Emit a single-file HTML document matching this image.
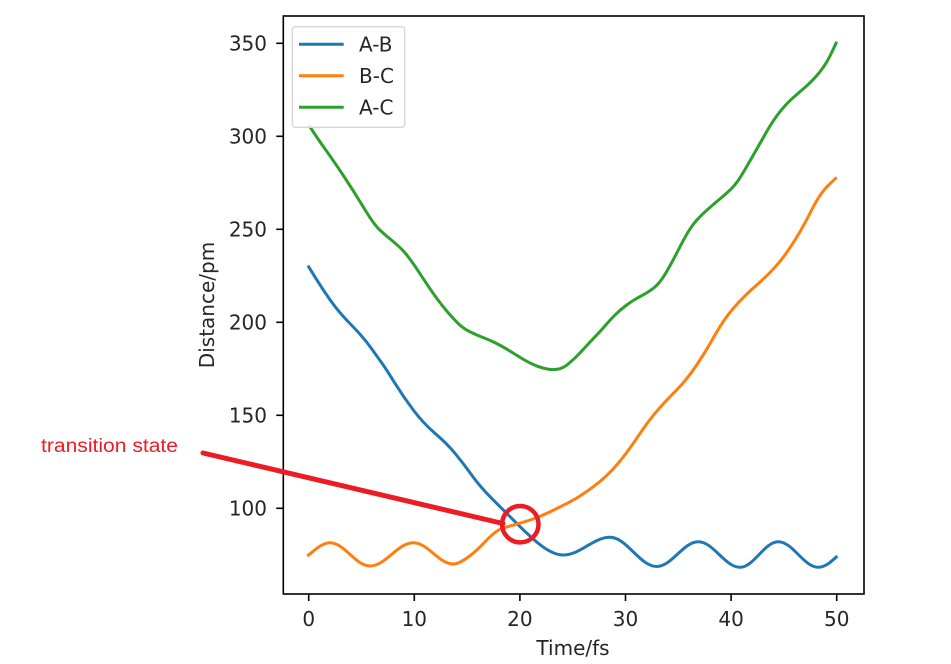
<!DOCTYPE html>
<html><head><meta charset="utf-8"><style>
html,body{margin:0;padding:0;background:#fff;}
svg{display:block;}
</style></head><body>
<svg width="951" height="664" viewBox="0 0 951 664" xmlns="http://www.w3.org/2000/svg">
<rect width="951" height="664" fill="#fff"/>
<g fill="none" stroke-width="3" stroke-linejoin="round" stroke-linecap="butt">
<!-- A-C green -->
<path stroke="#2ca02c" d="M308.7,125 L314.35,133.5 Q320,142 326.5,151 Q333,160 343,175 Q353,190 363,206.5 Q373,223 378,228.15 Q383,233.3 391.35,240 Q399.7,246.7 404.7,252.5 Q409.7,258.3 414.7,265.8 Q419.7,273.3 426.35,283.3 Q433,293.3 438,300 Q443,306.7 448,312.5 Q453,318.3 458,323.3 Q463,328.3 469.65,331.65 Q476.3,335 483,337.5 Q489.7,340 496.35,343.35 Q503,346.7 509.65,350.85 Q516.3,355 523,359.15 Q529.7,363.3 536.35,365.8 Q543,368.3 548,369.15 Q553,370 558,369.15 Q563,368.3 568,364.15 Q573,360 576.5,356.5 Q580,353 585,347.5 Q590,342 595,336.85 Q600,331.7 605,325.85 Q610,320 615,315 Q620,310 626.65,305 Q633.3,300 640,296.65 Q646.7,293.3 653.35,288.3 Q660,283.3 666.65,271.65 Q673.3,260 678.3,250 Q683.3,240 688.3,231.65 Q693.3,223.3 700,216.65 Q706.7,210 716.7,201.65 Q726.7,193.3 731.7,188.3 Q736.7,183.3 741.7,175 Q746.7,166.7 753.35,155 Q760,143.3 766.65,131.65 Q773.3,120 780,111.65 Q786.7,103.3 793.35,97.5 Q800,91.7 806.65,85.85 Q813.3,80 820,71.65 Q826.7,63.3 831.7,52.5 L836.7,41.7"/>
<!-- A-B blue -->
<path stroke="#1f77b4" d="M308,265.7 L315.5,277.85 Q323,290 331.35,301.65 Q339.7,313.3 351.35,325 Q363,336.7 371.35,348.35 Q379.7,360 383.2,365 Q386.7,370 395,383.35 Q403.3,396.7 413.3,410 Q423.3,423.3 435,433.3 Q446.7,443.3 455,453.3 Q463.3,463.3 471.65,475 Q480,486.7 491.65,498.35 Q503.3,510 515,521.65 C536,542.6 550,555 563.3,555 C580.1,555 593.2,537.3 610,537.3 C626.8,537.3 639.9,566.5 656.7,566.5 C671.7,566.5 683.3,541.7 698.3,541.7 C713.3,541.7 725,567.3 740,567.3 C753.8,567.3 764.5,541.7 778.3,541.7 C792.7,541.7 803.9,567.3 818.3,567.3 C825,567.3 831,562 837.3,556"/>
<!-- B-C orange -->
<path stroke="#ff7f0e" d="M307.3,556 C315,550 322,542.7 330,542.7 C344.4,542.7 355.6,566 370,566 C385.6,566 397.7,542.7 413.3,542.7 C427.7,542.7 438.9,564 453.3,564 C461,564 475,553 486.7,540 Q496.7,530 502.35,528.25 Q508,526.5 514,524.9 Q520,523.3 530,520 Q540,516.7 550,511.85 Q560,507 570,501.85 Q580,496.7 593.35,486.7 Q606.7,476.7 616.7,465 Q626.7,453.3 636.7,438.3 Q646.7,423.3 655,413.3 Q663.3,403.3 675,391.65 Q686.7,380 696.7,365 Q706.7,350 715,335 Q723.3,320 733.3,308.35 Q743.3,296.7 756.65,285 Q770,273.3 778.35,263.3 Q786.7,253.3 795,240 Q803.3,226.7 811.65,210 Q820,193.3 828.35,185.3 L836.7,177.3"/>
</g>
<!-- axes spines -->
<rect x="283.3" y="16" width="580.7" height="578" fill="none" stroke="#000" stroke-width="1.6"/>
<!-- ticks -->
<g stroke="#000" stroke-width="1.6">
<line x1="308.7" y1="594" x2="308.7" y2="601"/>
<line x1="414.3" y1="594" x2="414.3" y2="601"/>
<line x1="519.9" y1="594" x2="519.9" y2="601"/>
<line x1="625.5" y1="594" x2="625.5" y2="601"/>
<line x1="731.1" y1="594" x2="731.1" y2="601"/>
<line x1="836.7" y1="594" x2="836.7" y2="601"/>
<line x1="276.3" y1="508.3" x2="283.3" y2="508.3"/>
<line x1="276.3" y1="415.3" x2="283.3" y2="415.3"/>
<line x1="276.3" y1="322.3" x2="283.3" y2="322.3"/>
<line x1="276.3" y1="229.3" x2="283.3" y2="229.3"/>
<line x1="276.3" y1="136.3" x2="283.3" y2="136.3"/>
<line x1="276.3" y1="43.3" x2="283.3" y2="43.3"/>
</g>
<g font-family="'DejaVu Sans', 'Liberation Sans', sans-serif" font-size="20" fill="#262626">
<g text-anchor="middle">
<text x="308.7" y="626">0</text>
<text x="414.3" y="626">10</text>
<text x="519.9" y="626">20</text>
<text x="625.5" y="626">30</text>
<text x="731.1" y="626">40</text>
<text x="836.7" y="626">50</text>
<text x="573" y="655">Time/fs</text>
</g>
<g text-anchor="end">
<text x="267" y="515.5">100</text>
<text x="267" y="422.5">150</text>
<text x="267" y="329.5">200</text>
<text x="267" y="236.5">250</text>
<text x="267" y="143.5">300</text>
<text x="267" y="50.5">350</text>
</g>
<text transform="translate(214,305) rotate(-90)" text-anchor="middle">Distance/pm</text>
</g>
<!-- legend -->
<rect x="292.3" y="26.7" width="112.4" height="100.6" rx="3" ry="3" fill="#fff" fill-opacity="0.85" stroke="#d6d6d6" stroke-width="1.3"/>
<g stroke-width="3">
<line x1="299" y1="44.3" x2="343.7" y2="44.3" stroke="#1f77b4"/>
<line x1="299" y1="75.7" x2="343.7" y2="75.7" stroke="#ff7f0e"/>
<line x1="299" y1="107.3" x2="343.7" y2="107.3" stroke="#2ca02c"/>
</g>
<g font-family="'DejaVu Sans', 'Liberation Sans', sans-serif" font-size="20" fill="#262626">
<text x="359" y="51.5">A-B</text>
<text x="359" y="83">B-C</text>
<text x="359" y="114.5">A-C</text>
</g>
<!-- annotation -->
<line x1="203" y1="453" x2="503" y2="523.5" stroke="#ed1c24" stroke-width="5" stroke-linecap="round"/>
<circle cx="520.3" cy="524.2" r="18.2" fill="none" stroke="#ed1c24" stroke-width="4.5"/>
<text x="41" y="452" font-family="'Liberation Sans', sans-serif" font-size="19" fill="#ed1c24" textLength="137" lengthAdjust="spacingAndGlyphs">transition state</text>
</svg>
</body></html>
